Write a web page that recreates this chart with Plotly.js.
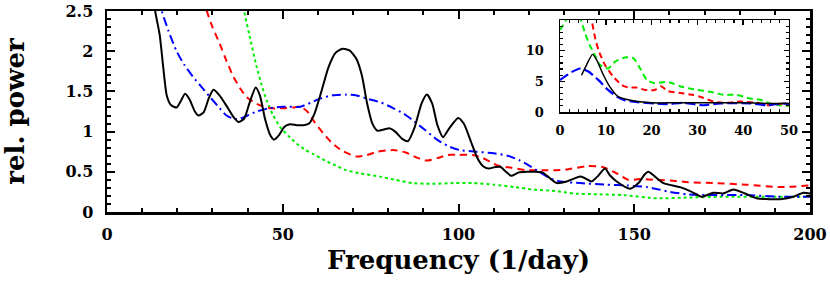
<!DOCTYPE html>
<html>
<head>
<meta charset="utf-8">
<script src="https://cdn.plot.ly/plotly-3.0.1.min.js"></script>
<style>html,body{margin:0;padding:0;background:#fff;}#chart{width:830px;height:282px;}</style>
</head>
<body>
<div id="chart"></div>
<script>
// ---- main panel: relative power vs frequency (1/day) ----
const blackX = [13,13.7,15,16,17,18.2,19.8,21,22.2,23.5,25,26,27.5,29,30.3,32,34,36,37.4,39,40.5,42.3,43.5,45,46.5,47.5,49,50.5,52,54,56,57.5,59,61,63,65,67,69,71,72.5,74,75.5,77,79,80.5,82,84,85.6,87.5,89.5,91,92.5,94,95.6,97.5,99.9,101.5,103.5,105.5,107,108.5,110.5,112,113.5,115,117,119.5,122,124,126,128,130.8,134.6,136,137.9,139.5,141.7,143,145,148.8,151.2,153,154,155.9,158.3,163,165.9,169.2,172.5,175.3,178.2,181.5,184.8,188,191.5,195.3,198.1,200];
const blackY = [2.75,2.5,2.2,1.8,1.45,1.33,1.30,1.38,1.47,1.40,1.25,1.20,1.24,1.42,1.52,1.45,1.32,1.18,1.12,1.16,1.35,1.55,1.45,1.15,0.95,0.90,0.96,1.06,1.09,1.08,1.08,1.10,1.22,1.50,1.80,1.98,2.03,2.01,1.90,1.70,1.35,1.10,1.01,1.03,1.04,1.00,0.91,0.88,1.05,1.35,1.46,1.35,1.08,0.93,1.05,1.17,1.10,0.88,0.66,0.57,0.54,0.56,0.56,0.50,0.45,0.49,0.50,0.50,0.49,0.42,0.36,0.38,0.44,0.42,0.38,0.44,0.54,0.46,0.38,0.29,0.36,0.47,0.50,0.44,0.36,0.31,0.26,0.19,0.24,0.23,0.28,0.23,0.17,0.16,0.16,0.19,0.24,0.23];

const redX = [27.5,28.4,30,32,34,36,38,39.7,42,44.5,47,50,53,55,57,59,61.5,64,67,71,74,77,81.5,85,88,91,94,97,100,104,107,111,115,119.5,124,128,131,136.5,141,145,148.3,151.6,156.4,161.1,165.4,172.5,182,191.5,200];
const redY = [2.65,2.5,2.3,2.1,1.88,1.68,1.53,1.43,1.36,1.31,1.29,1.29,1.30,1.31,1.25,1.12,0.98,0.86,0.76,0.69,0.71,0.75,0.77,0.74,0.68,0.64,0.67,0.71,0.71,0.71,0.67,0.58,0.55,0.52,0.52,0.52,0.53,0.57,0.56,0.48,0.40,0.41,0.40,0.39,0.37,0.36,0.34,0.31,0.33];

const blueX = [14.8,15.6,17.5,19.8,22,24.5,27,29.3,31.5,34,36,37.8,40,42.6,46,50,55,58,60.6,64,68,71,74,78,81.5,84.5,87,90.5,93.9,97,100.4,105,110,114,117.5,120,123,126,129,134.6,142,147.8,153.5,157,160.2,165,173.5,182,191.5,200];
const blueY = [2.65,2.5,2.25,2.0,1.83,1.68,1.55,1.43,1.32,1.20,1.16,1.16,1.20,1.25,1.29,1.31,1.31,1.36,1.41,1.45,1.46,1.45,1.41,1.36,1.29,1.22,1.14,1.02,0.90,0.82,0.77,0.75,0.73,0.70,0.64,0.58,0.50,0.42,0.38,0.36,0.34,0.33,0.31,0.28,0.25,0.22,0.21,0.21,0.19,0.19];

const greenX = [38,39,40.5,42.6,44,45.4,47.3,49.2,51.5,54,56.5,58.7,62,65,68,72,77.7,82,87,92,98.5,104,110,116,121,128,132.7,140,147,156.4,165,175,187.8,200];
const greenY = [2.7,2.5,2.2,1.8,1.58,1.39,1.2,1.06,0.95,0.85,0.77,0.72,0.64,0.58,0.52,0.48,0.44,0.40,0.36,0.35,0.36,0.36,0.34,0.31,0.28,0.26,0.23,0.22,0.21,0.17,0.18,0.19,0.19,0.19];

// ---- inset panel ----
const insBlackX = [4.7,5.8,7.1,8.0,9.5,10.9,12.7,14.9,17,20,25,30,35,40,45,50];
const insBlackY = [6.0,7.7,9.4,8.5,6.0,4.1,2.5,2.0,1.7,1.5,1.5,1.5,1.5,1.5,1.4,1.4];

const insBlueX = [0,1.1,2.5,4.4,6.2,8.4,10.5,12.4,14.2,17,20.7,23.6,27,31.2,35,41.5,45.2,48.7,50];
const insBlueY = [5.2,5.8,6.5,7.1,6.6,5.2,3.6,2.5,1.9,1.6,1.4,1.3,1.5,1.1,1.4,1.4,1.1,1.4,1.3];

const insRedX = [6.5,6.9,7.6,8.4,9.8,11.6,13.5,14.9,16.7,18.6,20.7,22,23.6,26.2,29,30.6,33.5,36.5,39.3,43,45.2,48.7,50];
const insRedY = [16,15,12.3,10.1,7.7,5.8,4.4,4.0,4.0,3.6,3.6,4.2,3.4,3.1,2.8,2.5,1.7,1.5,1.7,1.5,1.1,1.4,1.3];

const insGreenX = [0,1.1,2,4,4.7,5.5,6.5,7.6,8.7,10.5,12,14.2,16,17.5,19,20.7,22.9,24.5,26.2,29.9,32.8,35.6,38.6,41.5,43.7,45.9,48,50];
const insGreenY = [13.4,14.7,16,16,14.7,12.8,10.9,9.3,7.7,7.1,8.2,8.9,8.8,7.1,5.2,4.7,4.9,4.7,4.2,3.6,3.3,2.8,2.8,2.2,2.0,1.4,1.1,1.0];

const mainXTicks = [0,50,100,150,200];
const mainYTicks = [0,0.5,1,1.5,2,2.5];
const insXTicks = [0,10,20,30,40,50];
const insYTicks = [0,5,10];

const SERIF = 'DejaVu Serif';
function ln(color, dash, w){ return {color: color, dash: dash, width: w, shape: 'spline', smoothing: 0.6}; }

const traces = [
  {x: greenX, y: greenY, mode: 'lines', line: ln('#00ee00', '3px,3px', 2)},
  {x: redX, y: redY, mode: 'lines', line: ln('#ff0000', '7px,5px', 2)},
  {x: blueX, y: blueY, mode: 'lines', line: ln('#0000ff', '9px,4px,2px,4px', 2)},
  {x: blackX, y: blackY, mode: 'lines', line: ln('#000000', 'solid', 2)},
  {x: insGreenX, y: insGreenY, xaxis: 'x2', yaxis: 'y2', mode: 'lines', line: ln('#00ee00', '6px,4px', 2)},
  {x: insRedX, y: insRedY, xaxis: 'x2', yaxis: 'y2', mode: 'lines', line: ln('#ff0000', '6px,4px', 2)},
  {x: insBlueX, y: insBlueY, xaxis: 'x2', yaxis: 'y2', mode: 'lines', line: ln('#0000ff', '10px,4px', 2.2)},
  {x: insBlackX, y: insBlackY, xaxis: 'x2', yaxis: 'y2', mode: 'lines', line: ln('#000000', 'solid', 1.5)}
];

const tickFont = {family: SERIF, size: 16, color: '#000', weight: 'bold'};
const insTickFont = {family: SERIF, size: 13, color: '#000', weight: 'bold'};
const titleFont = {family: SERIF, size: 26, color: '#000', weight: 'bold'};

const layout = {
  width: 830, height: 282,
  margin: {l: 107, r: 20, t: 11, b: 70},
  paper_bgcolor: '#fff', plot_bgcolor: '#fff',
  showlegend: false,
  xaxis: {
    range: [0, 200], tickvals: mainXTicks, ticktext: mainXTicks.map(String),
    ticks: 'inside', ticklen: 8, tickwidth: 2, tickcolor: '#000',
    minor: {dtick: 10, ticks: 'inside', ticklen: 4, tickwidth: 2, tickcolor: '#000', showgrid: false},
    showline: true, linewidth: 2.5, linecolor: '#000', mirror: 'ticks',
    showgrid: false, zeroline: false, tickfont: tickFont, ticklabelstandoff: 6,
    title: {text: 'Frequency (1/day)', font: titleFont, standoff: 8}
  },
  yaxis: {
    range: [0, 2.5], tickvals: mainYTicks, ticktext: mainYTicks.map(String),
    ticks: 'inside', ticklen: 8, tickwidth: 2, tickcolor: '#000',
    minor: {dtick: 0.1, ticks: 'inside', ticklen: 4, tickwidth: 2, tickcolor: '#000', showgrid: false},
    showline: true, linewidth: 2.5, linecolor: '#000', mirror: 'ticks',
    showgrid: false, zeroline: false, tickfont: tickFont, ticklabelstandoff: 8,
    title: {text: 'rel. power', font: titleFont, standoff: 34}
  },
  xaxis2: {
    domain: [0.6444, 0.9701], anchor: 'y2', range: [0, 50],
    tickvals: insXTicks, ticktext: insXTicks.map(String),
    ticks: 'inside', ticklen: 5, tickwidth: 1.5, tickcolor: '#000',
    minor: {dtick: 2, ticks: 'inside', ticklen: 3, tickwidth: 1.2, tickcolor: '#000', showgrid: false},
    showline: true, linewidth: 1.5, linecolor: '#000', mirror: 'ticks',
    showgrid: false, zeroline: false, tickfont: insTickFont, ticklabelstandoff: 6
  },
  yaxis2: {
    domain: [0.4975, 0.955], anchor: 'x2', range: [0, 15],
    tickvals: insYTicks, ticktext: insYTicks.map(String),
    ticks: 'inside', ticklen: 5, tickwidth: 1.5, tickcolor: '#000',
    minor: {dtick: 1, ticks: 'inside', ticklen: 3, tickwidth: 1.2, tickcolor: '#000', showgrid: false},
    showline: true, linewidth: 1.5, linecolor: '#000', mirror: 'ticks',
    showgrid: false, zeroline: false, tickfont: insTickFont, ticklabelstandoff: 12
  }
};

Plotly.newPlot('chart', traces, layout, {staticPlot: true, displayModeBar: false});
</script>
</body>
</html>
